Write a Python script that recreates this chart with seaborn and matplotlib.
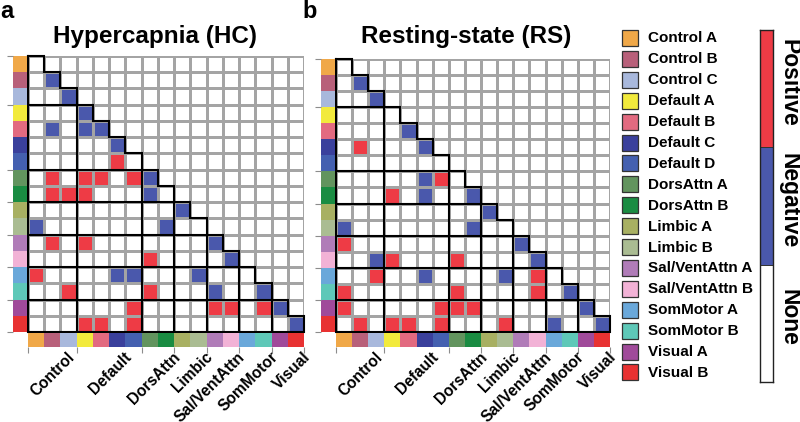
import numpy as np
import matplotlib
matplotlib.use("Agg")
import matplotlib.pyplot as plt
from matplotlib.colors import ListedColormap
from matplotlib.patches import Rectangle
from matplotlib.transforms import blended_transform_factory
import seaborn as sns

# ---------------- data ----------------
networks = ["Control A", "Control B", "Control C", "Default A", "Default B",
            "Default C", "Default D", "DorsAttn A", "DorsAttn B", "Limbic A",
            "Limbic B", "Sal/VentAttn A", "Sal/VentAttn B", "SomMotor A",
            "SomMotor B", "Visual A", "Visual B"]
network_colors = ["#F0A848", "#B8607A", "#A8B8DC", "#F2EA3C", "#E26A80",
                  "#3A409C", "#4460B0", "#62945E", "#1A8C42", "#A8B062",
                  "#AABC92", "#B07CB8", "#F2B2D6", "#6AA8DA", "#5EC8B8",
                  "#A04A9A", "#E83232"]
groups = ["Control", "Default", "DorsAttn", "Limbic", "Sal/VentAttn",
          "SomMotor", "Visual"]
group_bounds = [0, 3, 7, 9, 11, 13, 15, 17]
state_labels = ["Positive", "Negative", "None"]
state_values = [1, -1, 0]

# lower-triangle rows (1 = positive, -1 = negative, 0 = none)
hc_rows = [
    [0],
    [0, -1],
    [0, 0, -1],
    [0, 0, 0, -1],
    [0, -1, 0, -1, -1],
    [0, 0, 0, 0, 0, -1],
    [0, 0, 0, 0, 0, 1, 0],
    [0, 1, 0, 1, 1, 0, 1, -1],
    [0, 1, 1, 1, 0, 0, 0, -1, 0],
    [0, 0, 0, 0, 0, 0, 0, 0, 0, -1],
    [-1, 0, 0, 0, 0, 0, 0, 0, -1, 0, 0],
    [0, 1, 0, 1, 0, 0, 0, 0, 0, 0, 0, -1],
    [0, 0, 0, 0, 0, 0, 0, 1, 0, 0, 0, 0, -1],
    [1, 0, 0, 0, 0, -1, -1, 0, 0, 0, -1, 0, 0, 0],
    [0, 0, 1, 0, 0, 0, 0, 1, 0, 0, 0, -1, 0, 0, -1],
    [0, 0, 0, 0, 0, 0, 1, 0, 0, 0, 0, 1, 1, 0, 1, -1],
    [0, 0, 0, 1, 1, 0, 1, 0, 0, 0, 0, 0, 0, 0, 0, 0, -1],
]
rs_rows = [
    [0],
    [0, -1],
    [0, 0, -1],
    [0, 0, 0, 0],
    [0, 0, 0, 0, -1],
    [0, 1, 0, 0, 0, -1],
    [0, 0, 0, 0, 0, 0, 0],
    [0, 0, 0, 0, 0, -1, 1, 0],
    [0, 0, 0, 1, 0, -1, 0, 0, -1],
    [0, 0, 0, 0, 0, 0, 0, 0, 0, -1],
    [-1, 0, 0, 0, 0, 0, 0, 0, -1, 0, 0],
    [1, 0, 0, 0, 0, 0, 0, 0, 0, 0, 0, -1],
    [0, 0, -1, 1, 0, 0, 0, 1, 0, 0, 0, 0, -1],
    [0, 0, 1, 0, 0, -1, 0, 0, 0, 0, -1, 0, 1, 0],
    [1, 0, 0, 0, 0, 0, 0, 1, 0, 0, 0, 0, 1, 0, -1],
    [1, 0, 0, 0, 0, 0, 1, 1, 1, 0, 0, 0, 0, 0, 0, -1],
    [0, 1, 0, 1, 1, 0, 1, 0, 0, 0, 1, 0, 0, -1, 0, 0, -1],
]

# ---------------- style ----------------
POS = "#EE3B45"
NEG = "#4A58AC"
state_cmap = ListedColormap([NEG, "white", POS])
net_cmap = ListedColormap(network_colors)
plt.rcParams["font.family"] = ["Liberation Sans", "DejaVu Sans"]
plt.rcParams["font.weight"] = "bold"

W, H = 800, 422
fig = plt.figure(figsize=(W / 100, H / 100), dpi=100)


def px_axes(x0, y0, x1, y1):
    return fig.add_axes([x0 / W, 1 - y1 / H, (x1 - x0) / W, (y1 - y0) / H])


def to_matrix(rows):
    n = len(rows)
    m = np.zeros((n, n))
    for r, row in enumerate(rows):
        m[r, :len(row)] = row
    return m


def draw_panel(rows, mx0, my0, mx1, my1, sx0, sx1, title, tx, letter, lx):
    n = len(networks)
    mat = to_matrix(rows)
    mask = np.triu(np.ones((n, n), dtype=bool), k=1)
    ax = px_axes(mx0, my0, mx1, my1)
    sns.heatmap(mat, mask=mask, cmap=state_cmap, vmin=-1.5, vmax=1.5,
                cbar=False, linewidths=1.0, linecolor="#a4a4a4",
                xticklabels=False, yticklabels=False, ax=ax)
    kw = dict(color="black", lw=1.5, clip_on=False, solid_capstyle="projecting",
              solid_joinstyle="miter")
    xs, ys = [0], [0]
    for r in range(n):
        xs += [r + 1, r + 1]
        ys += [r, r + 1]
    xs += [0, 0]
    ys += [n, 0]
    ax.plot(xs, ys, **kw)
    for b in group_bounds[1:-1]:
        ax.plot([0, b], [b, b], **kw)
        ax.plot([b, b], [b, n], **kw)
    ax.set_xlim(0, n)
    ax.set_ylim(n, 0)

    # left colour strip
    axl = px_axes(sx0, my0, sx1, my1)
    sns.heatmap(np.arange(n).reshape(-1, 1), cmap=net_cmap, cbar=False,
                xticklabels=False, yticklabels=False, ax=axl)
    axl.set_yticks(group_bounds)
    axl.set_yticklabels([])
    axl.tick_params(axis="y", left=True, length=4, width=0.8, color="#8c8c8c")

    # bottom colour strip
    axb = px_axes(mx0, my1 + 1, mx1, my1 + 15)
    sns.heatmap(np.arange(n).reshape(1, -1), cmap=net_cmap, cbar=False,
                xticklabels=False, yticklabels=False, ax=axb)
    axb.set_xticks(group_bounds)
    axb.set_xticklabels([])
    axb.tick_params(axis="x", bottom=True, length=4, width=0.8, color="#8c8c8c")
    trans = blended_transform_factory(axb.transData, axb.transAxes)
    for g, name in enumerate(groups):
        c = (group_bounds[g] + group_bounds[g + 1]) / 2
        axb.text(c + 0.9, -0.18, name, transform=trans, rotation=45,
                 rotation_mode="anchor", ha="right", va="top",
                 fontsize=11.2, fontweight="bold")

    fig.text(tx / W, 1 - 37 / H, title, ha="center", va="center",
             fontsize=17.5, fontweight="bold")
    fig.text(lx / W, 1 - 11 / H, letter, ha="left", va="center",
             fontsize=17, fontweight="bold")


draw_panel(hc_rows, 28, 56, 304, 332, 12.7, 26.8, "Hypercapnia (HC)", 155, "a", 0)
draw_panel(rs_rows, 336, 59, 610, 332, 321, 334.5, "Resting-state (RS)", 466, "b", 302)

# legend of networks
axg = fig.add_axes([0, 0, 1, 1])
axg.set_xlim(0, W)
axg.set_ylim(H, 0)
axg.axis("off")
for i, (name, col) in enumerate(zip(networks, network_colors)):
    y = 30 + i * 20.9
    axg.add_patch(Rectangle((622, y), 16, 16, facecolor=col,
                            edgecolor="#333333", lw=0.9))
    axg.text(648, y + 8.5, name, ha="left", va="center", fontsize=11,
             fontweight="bold")

# state colour bar
axc = px_axes(760, 30, 773, 382)
sns.heatmap(np.array(state_values).reshape(-1, 1), cmap=state_cmap,
            vmin=-1.5, vmax=1.5, cbar=False, linewidths=0.6,
            linecolor="#333333", xticklabels=False, yticklabels=False, ax=axc)
for s in axc.spines.values():
    s.set_visible(True)
    s.set_color("#222222")
    s.set_linewidth(1.0)
tc = blended_transform_factory(axc.transAxes, axc.transData)
for i, lab in enumerate(state_labels):
    axc.text(2.2, i + 0.45, lab, transform=tc, rotation=270, ha="center",
             va="center", fontsize=16.5, fontweight="bold")

fig.savefig("out.png", dpi=100)
